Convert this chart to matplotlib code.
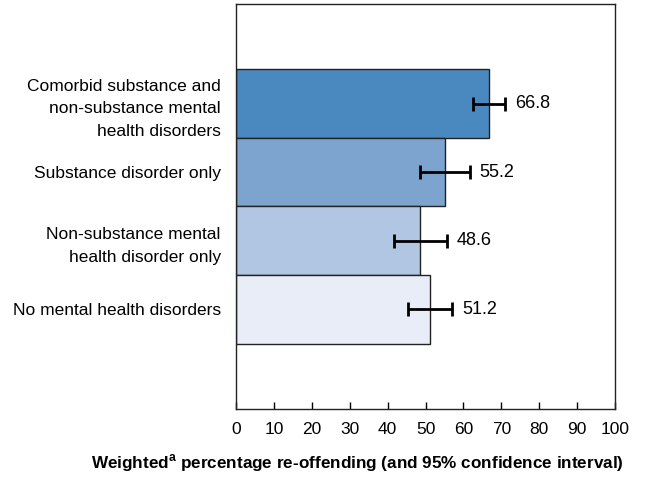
import matplotlib.pyplot as plt

plt.rcParams['font.family'] = ['Liberation Sans', 'DejaVu Sans']
plt.rcParams['mathtext.fontset'] = 'custom'
plt.rcParams['mathtext.rm'] = 'Liberation Sans'
plt.rcParams['mathtext.bf'] = 'Liberation Sans:bold'

grupos = [
    "Comorbid substance and\nnon-substance mental\nhealth disorders",
    "Substance disorder only",
    "Non-substance mental\nhealth disorder only",
    "No mental health disorders",
]
porcentaje = [66.8, 55.2, 48.6, 51.2]
ic_inferior = [62.5, 48.6, 41.7, 45.4]
ic_superior = [71.0, 61.7, 55.7, 57.0]
colores = ["#4a89bf", "#7ca4cf", "#b0c6e3", "#e8edf7"]
xticks = [0, 10, 20, 30, 40, 50, 60, 70, 80, 90, 100]

fig = plt.figure(figsize=(6.5, 4.79), dpi=100)
ax = fig.add_axes([236 / 650, 1 - 409 / 479, (615 - 236) / 650, (409 - 4) / 479])

pos = list(range(len(grupos)))
ax.barh(pos, porcentaje, height=1.0, color=colores, edgecolor="#222222", lw=1)

err = [[p - lo for p, lo in zip(porcentaje, ic_inferior)],
       [hi - p for p, hi in zip(porcentaje, ic_superior)]]
ax.errorbar(porcentaje, pos, xerr=err, fmt="none", ecolor="black",
            elinewidth=2, capsize=5, capthick=2)

# etiqueta con el valor a la derecha de cada intervalo
for y, hi, v in zip(pos, ic_superior, porcentaje):
    ax.text(hi + 2.6, y, f"{v:.1f}", va="center", ha="left", fontsize=13)

ax.set_xlim(0, 100)
ax.set_ylim(3 + 1.45, -1.45)
ax.set_xticks(xticks)
ax.set_xticklabels([str(t) for t in xticks], fontsize=12.5)
ax.set_yticks(pos)
ax.set_yticklabels(grupos, fontsize=12.5, linespacing=1.65)
ax.tick_params(axis="y", length=0, pad=11)
ax.tick_params(axis="x", direction="in", length=5, width=1, pad=9)
for s in ax.spines.values():
    s.set_color("#222222")
    s.set_linewidth(1)

fig.text(357 / 650, 1 - 463 / 479,
         r"Weighted$^{\mathbf{a}}$ percentage re-offending (and 95% confidence interval)",
         fontsize=12.3, fontweight="bold", ha="center", va="center")

fig.savefig("out.png", dpi=100)
